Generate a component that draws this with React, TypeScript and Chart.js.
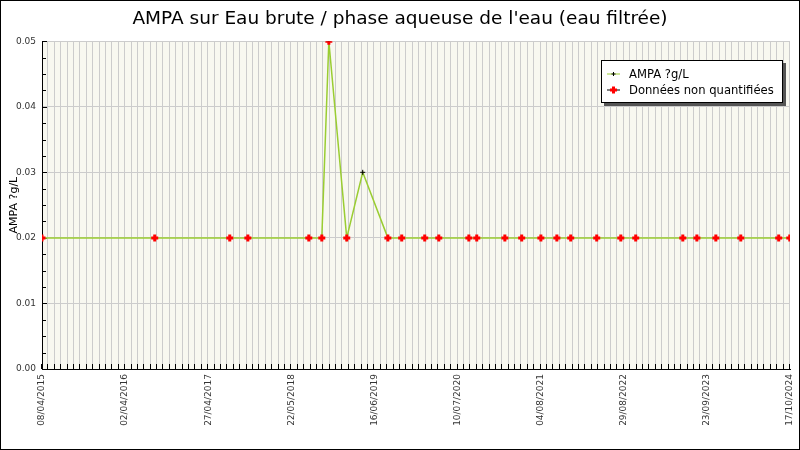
import React, { useEffect, useRef } from 'react'
import Chart from 'chart.js/auto'

// sampling dates and AMPA results (µg/L)
const sampleDates = [
  '2015-04-08', '2016-09-18', '2017-09-05', '2017-11-29', '2018-09-11',
  '2018-11-11', '2018-12-14', '2019-03-08', '2019-05-22', '2019-09-17',
  '2019-11-21', '2020-03-08', '2020-05-13', '2020-10-01', '2020-11-07',
  '2021-03-19', '2021-06-06', '2021-09-04', '2021-11-18', '2022-01-22',
  '2022-05-24', '2022-09-14', '2022-11-23', '2023-07-02', '2023-09-06',
  '2023-12-04', '2024-03-30', '2024-09-24', '2024-11-15'
]
const ampaValues = [
  0.02, 0.02, 0.02, 0.02, 0.02,
  0.02, 0.05, 0.02, 0.03, 0.02,
  0.02, 0.02, 0.02, 0.02, 0.02,
  0.02, 0.02, 0.02, 0.02, 0.02,
  0.02, 0.02, 0.02, 0.02, 0.02,
  0.02, 0.02, 0.02, 0.02
]
// 1 = non quantifié (seuil de quantification)
const nonQuantified = [
  1, 1, 1, 1, 1,
  1, 1, 1, 0, 1,
  1, 1, 1, 1, 1,
  1, 1, 1, 1, 1,
  1, 1, 1, 1, 1,
  1, 1, 1, 1
]
const xTickLabels = [
  '08/04/2015', '02/04/2016', '27/04/2017', '22/05/2018', '16/06/2019',
  '10/07/2020', '04/08/2021', '29/08/2022', '23/09/2023', '17/10/2024'
]
const yTickValues = [0, 0.01, 0.02, 0.03, 0.04, 0.05]

const DAY = 86400000
const GRID_DAYS = 30
const LABEL_EVERY = 13
const xMin = Date.parse(sampleDates[0])
const gridCount = (xTickLabels.length - 1) * LABEL_EVERY
const xMax = xMin + gridCount * GRID_DAYS * DAY

const FONT = "'DejaVu Sans', sans-serif"

const plotDecor = {
  id: 'plotDecor',
  beforeDraw(chart: any) {
    const { ctx, chartArea: a } = chart
    ctx.save()
    ctx.fillStyle = '#f8f8f0'
    ctx.fillRect(a.left, a.top, a.right - a.left, a.bottom - a.top)
    ctx.restore()
  },
  beforeDatasetsDraw(chart: any) {
    const { ctx, chartArea: a, scales } = chart
    ctx.save()
    // crisp vertical grid lines, one per x tick
    ctx.strokeStyle = '#cccccc'
    ctx.lineWidth = 1
    ctx.beginPath()
    scales.x.ticks.forEach((t: any, i: number) => {
      if (i === 0) return
      const x = Math.round(scales.x.getPixelForValue(t.value)) - 0.5
      ctx.moveTo(x, a.top)
      ctx.lineTo(x, a.bottom)
    })
    ctx.stroke()

    ctx.strokeStyle = '#000'
    ctx.beginPath()
    // inner ticks on y axis, minor every 0.0025
    for (let i = 0; i <= 20; i++) {
      const y = Math.round(scales.y.getPixelForValue(i * 0.0025)) + 0.5
      const len = i % 4 === 0 ? 5 : 4
      ctx.moveTo(a.left, y)
      ctx.lineTo(a.left + len, y)
    }
    // inner ticks on x axis
    scales.x.ticks.forEach((t: any) => {
      const x = Math.round(scales.x.getPixelForValue(t.value)) - 0.5
      ctx.moveTo(x, a.bottom)
      ctx.lineTo(x, a.bottom - 5)
    })
    ctx.stroke()
    ctx.restore()
  }
}

const LegendSymbol = ({ line, marker, big }: { line: string; marker: string; big?: boolean }) => (
  <svg width="14" height="10" style={{ display: 'block' }}>
    <line x1="0" y1="5" x2="13" y2="5" stroke={line} strokeWidth="1" />
    <line x1={big ? 3 : 4.5} y1="5" x2={big ? 10 : 8.5} y2="5" stroke={marker} strokeWidth={big ? 3 : 1} />
    <line x1="6.5" y1={big ? 1.5 : 3} x2="6.5" y2={big ? 8.5 : 7} stroke={marker} strokeWidth={big ? 3 : 1} />
  </svg>
)

const AmpaChart = () => {
  const chartRef = useRef<HTMLCanvasElement>(null)
  const chartInstance = useRef<Chart>()

  useEffect(() => {
    document.body.style.margin = '0'
    if (!chartRef.current) return
    if (chartInstance.current) chartInstance.current.destroy()

    const points = sampleDates.map((d, i) => ({ x: Date.parse(d), y: ampaValues[i] }))
    const nqPoints = points.filter((_, i) => nonQuantified[i] === 1)

    chartInstance.current = new Chart(chartRef.current, {
      type: 'line',
      data: {
        datasets: [
          {
            label: 'Données non quantifiées',
            data: nqPoints,
            showLine: false,
            pointStyle: 'cross',
            pointRadius: 3.5,
            pointBorderWidth: 3,
            pointBorderColor: '#ff0000',
            pointBackgroundColor: '#ff0000',
            order: 0
          },
          {
            label: 'AMPA ?g/L',
            data: points,
            borderColor: '#9acd32',
            borderWidth: 1.5,
            tension: 0,
            pointStyle: 'cross',
            pointRadius: 2.5,
            pointBorderWidth: 1,
            pointBorderColor: '#000',
            order: 1
          }
        ]
      },
      options: {
        responsive: false,
        animation: false,
        layout: { padding: 0 },
        plugins: {
          legend: { display: false },
          tooltip: { enabled: false },
          title: {
            display: true,
            text: "AMPA sur Eau brute / phase aqueuse de l'eau (eau filtrée)",
            color: '#000',
            font: { family: FONT, size: 18.5, weight: 'normal' },
            padding: { top: 8, bottom: 11 }
          }
        },
        scales: {
          x: {
            type: 'linear',
            min: xMin,
            max: xMax,
            afterBuildTicks: (scale: any) => {
              const ticks = []
              for (let i = 0; i <= gridCount; i++) ticks.push({ value: xMin + i * GRID_DAYS * DAY })
              scale.ticks = ticks
            },
            ticks: {
              autoSkip: false,
              minRotation: 90,
              maxRotation: 90,
              padding: 5,
              color: '#333',
              font: { family: FONT, size: 9 },
              callback: (_v: any, i: number) => (i % LABEL_EVERY === 0 ? xTickLabels[i / LABEL_EVERY] : '')
            },
            grid: { display: false, drawTicks: false },
            border: { display: true, color: '#000', width: 1 },
            afterFit: (scale: any) => {
              scale.height = 81
              scale.paddingLeft = 0
              scale.paddingRight = 10
            }
          },
          y: {
            min: 0,
            max: 0.05,
            afterBuildTicks: (scale: any) => {
              scale.ticks = yTickValues.map(v => ({ value: v }))
            },
            ticks: {
              padding: 6,
              color: '#333',
              font: { family: FONT, size: 9 },
              callback: (v: any) => Number(v).toFixed(2)
            },
            grid: { color: '#cccccc', drawTicks: false },
            border: { color: '#000', width: 1 },
            title: {
              display: true,
              text: 'AMPA ?g/L',
              color: '#000',
              font: { family: FONT, size: 11 },
              padding: { top: 8, bottom: 0 }
            },
            afterFit: (scale: any) => { scale.width = 42 }
          }
        }
      },
      plugins: [plotDecor]
    })

    return () => {
      if (chartInstance.current) chartInstance.current.destroy()
    }
  }, [])

  return (
    <div style={{ position: 'relative', width: 800, height: 450, background: '#fff' }}>
      <canvas ref={chartRef} width={800} height={450} />
      <div style={{
        position: 'absolute', left: 0, top: 0, width: 800, height: 450,
        border: '1px solid #000', boxSizing: 'border-box', pointerEvents: 'none'
      }} />
      <div style={{
        position: 'absolute', left: 601, top: 60, width: 182, height: 43,
        boxSizing: 'border-box', border: '1px solid #000', background: '#fff',
        boxShadow: '3px 3px 0 #555', fontFamily: FONT, fontSize: 11.6, color: '#000',
        padding: '5px 0 0 5px', lineHeight: '16px', whiteSpace: 'nowrap'
      }}>
        <div style={{ display: 'flex', alignItems: 'center', gap: 8 }}>
          <LegendSymbol line="#9acd32" marker="#000" />
          <span>AMPA ?g/L</span>
        </div>
        <div style={{ display: 'flex', alignItems: 'center', gap: 8 }}>
          <LegendSymbol line="#000" marker="#ff0000" big />
          <span>Données non quantifiées</span>
        </div>
      </div>
    </div>
  )
}

export default function App() {
  return <AmpaChart />
}
